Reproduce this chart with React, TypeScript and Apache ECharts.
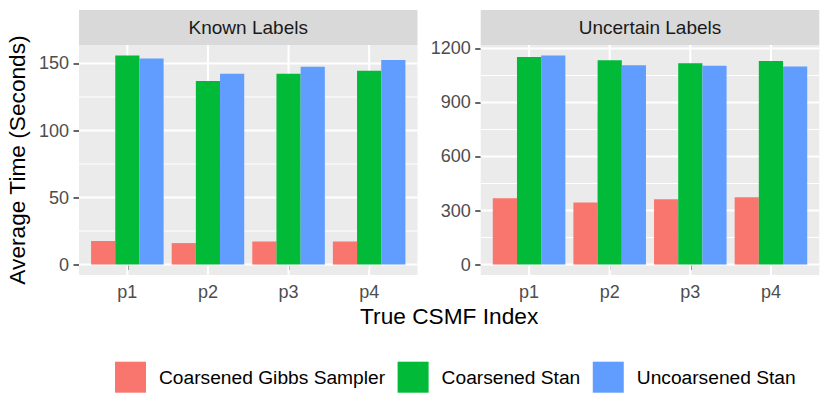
import React, { useEffect, useRef } from 'react';
import * as echarts from 'echarts';

const categories = ['p1', 'p2', 'p3', 'p4'];
const seriesNames = ['Coarsened Gibbs Sampler', 'Coarsened Stan', 'Uncoarsened Stan'];
const seriesColors = ['#F8766D', '#00BA38', '#619CFF'];
const panelTitles = ['Known Labels', 'Uncertain Labels'];

const knownGibbs = [17.5, 16.0, 17.2, 17.2];
const knownCoarsenedStan = [156, 137, 142.3, 144.6];
const knownUncoarsenedStan = [153.8, 142.3, 147.6, 152.6];

const uncertainGibbs = [368, 344, 362, 373];
const uncertainCoarsenedStan = [1152, 1135, 1118, 1130];
const uncertainUncoarsenedStan = [1161, 1107, 1104, 1100];

const knownTicks = [0, 50, 100, 150];
const uncertainTicks = [0, 300, 600, 900, 1200];

const FONT = '"Liberation Sans", Arial, Helvetica, sans-serif';
const GRID_COLOR = '#FFFFFF';

const panelData = [
  [knownGibbs, knownCoarsenedStan, knownUncoarsenedStan],
  [uncertainGibbs, uncertainCoarsenedStan, uncertainUncoarsenedStan],
];
const panelTicks = [knownTicks, uncertainTicks];

const PANEL_TOP = 45;
const PANEL_HEIGHT = 230;
const STRIP_TOP = 10;
const STRIP_HEIGHT = 35;
const PANELS = [
  { left: 79, width: 338.5 },
  { left: 480.7, width: 338.6 },
];

function makeGridRender(horizontal: boolean, lw: number) {
  return (params: any, api: any) => {
    const cs = params.coordSys;
    const pt = api.coord([api.value(0), api.value(1)]);
    if (horizontal) {
      return {
        type: 'rect',
        shape: { x: cs.x, y: pt[1] - lw / 2, width: cs.width, height: lw },
        style: { fill: GRID_COLOR },
      };
    }
    return {
      type: 'rect',
      shape: { x: pt[0] - lw / 2, y: cs.y, width: lw, height: cs.height },
      style: { fill: GRID_COLOR },
    };
  };
}

function buildOption() {
  const catPositions = categories.map((_, i) => i + 1);
  const grids: any[] = [];
  const xAxes: any[] = [];
  const yAxes: any[] = [];
  const series: any[] = [];
  const graphics: any[] = [];

  PANELS.forEach((p, i) => {
    const ticks = panelTicks[i];
    const minors: number[] = [];
    for (let k = 0; k < ticks.length - 1; k++) minors.push((ticks[k] + ticks[k + 1]) / 2);
    const all = panelData[i].flat();
    const dmax = Math.max(...all);
    const yMin = -0.05 * dmax;
    const yMax = dmax * 1.05;

    grids.push({
      left: p.left,
      top: PANEL_TOP,
      width: p.width,
      height: PANEL_HEIGHT,
      show: true,
      backgroundColor: '#EBEBEB',
      borderWidth: 0,
    });

    xAxes.push({
      type: 'value',
      gridIndex: i,
      min: 0.4,
      max: categories.length + 0.6,
      axisLine: { show: false },
      splitLine: { show: false },
      axisTick: {
        show: true,
        customValues: catPositions,
        length: 5.5,
        lineStyle: { color: '#333333', width: 1.5 },
      },
      axisLabel: {
        customValues: catPositions,
        formatter: (v: number) => categories[Math.round(v) - 1] ?? '',
        color: '#4D4D4D',
        fontSize: 18,
        fontFamily: FONT,
        margin: 8,
      },
    });

    yAxes.push({
      type: 'value',
      gridIndex: i,
      min: yMin,
      max: yMax,
      axisLine: { show: false },
      splitLine: { show: false },
      axisTick: {
        show: true,
        customValues: ticks,
        length: 5.5,
        lineStyle: { color: '#333333', width: 1.5 },
      },
      axisLabel: {
        customValues: ticks,
        formatter: (v: number) => String(v),
        color: '#4D4D4D',
        fontSize: 18,
        fontFamily: FONT,
        margin: 10,
      },
      ...(i === 0
        ? {
            name: 'Average Time (Seconds)',
            nameLocation: 'middle',
            nameGap: 51,
            nameTextStyle: { fontSize: 22.7, color: '#000000', fontFamily: FONT },
          }
        : {}),
    });

    const gridSets: { data: number[][]; horizontal: boolean; lw: number }[] = [
      { data: minors.map((v) => [1, v]), horizontal: true, lw: 1.1 },
      { data: ticks.map((v) => [1, v]), horizontal: true, lw: 2.1 },
      { data: catPositions.map((x) => [x, 0]), horizontal: false, lw: 2.1 },
    ];
    gridSets.forEach((g, gi) => {
      series.push({
        type: 'custom',
        name: 'grid-' + i + '-' + gi,
        xAxisIndex: i,
        yAxisIndex: i,
        z: 1,
        silent: true,
        dimensions: ['x', 'y'],
        encode: { x: 0, y: 1 },
        renderItem: makeGridRender(g.horizontal, g.lw),
        data: g.data,
      });
    });

    panelData[i].forEach((vals, k) => {
      series.push({
        type: 'bar',
        name: seriesNames[k],
        xAxisIndex: i,
        yAxisIndex: i,
        z: 3,
        data: vals.map((v, j) => [j + 1, v]),
        barWidth: '30%',
        barGap: '0%',
        itemStyle: { color: seriesColors[k] },
        clip: false,
      });
    });

    graphics.push({
      type: 'rect',
      shape: { x: p.left, y: STRIP_TOP, width: p.width, height: STRIP_HEIGHT },
      style: { fill: '#D9D9D9' },
      silent: true,
    });
    graphics.push({
      type: 'text',
      x: p.left + p.width / 2,
      y: STRIP_TOP + STRIP_HEIGHT / 2,
      style: {
        text: panelTitles[i],
        fill: '#1A1A1A',
        fontSize: 19,
        fontFamily: FONT,
        align: 'center',
        verticalAlign: 'middle',
      },
      silent: true,
    });
  });

  const plotLeft = PANELS[0].left;
  const plotRight = PANELS[1].left + PANELS[1].width;
  graphics.push({
    type: 'text',
    x: (plotLeft + plotRight) / 2,
    y: 316,
    style: {
      text: 'True CSMF Index',
      fill: '#000000',
      fontSize: 22.7,
      fontFamily: FONT,
      align: 'center',
      verticalAlign: 'middle',
    },
    silent: true,
  });

  return {
    animation: false,
    backgroundColor: '#FFFFFF',
    textStyle: { fontFamily: FONT },
    grid: grids,
    xAxis: xAxes,
    yAxis: yAxes,
    series,
    graphic: graphics,
    legend: {
      data: seriesNames,
      left: 115,
      top: 361.7,
      padding: 0,
      icon: 'rect',
      itemWidth: 31,
      itemHeight: 31,
      itemGap: 12.5,
      selectedMode: false,
      textStyle: { fontSize: 19.2, color: '#000000', fontFamily: FONT, padding: [0, 0, 0, 8] },
    },
  };
}

export default function App() {
  const ref = useRef<HTMLDivElement>(null);
  useEffect(() => {
    document.body.style.margin = '0';
    if (!ref.current) return;
    const chart = echarts.init(ref.current, undefined, { renderer: 'svg' });
    chart.setOption(buildOption() as any);
    return () => chart.dispose();
  }, []);
  return <div ref={ref} style={{ width: 830, height: 415 }} />;
}
